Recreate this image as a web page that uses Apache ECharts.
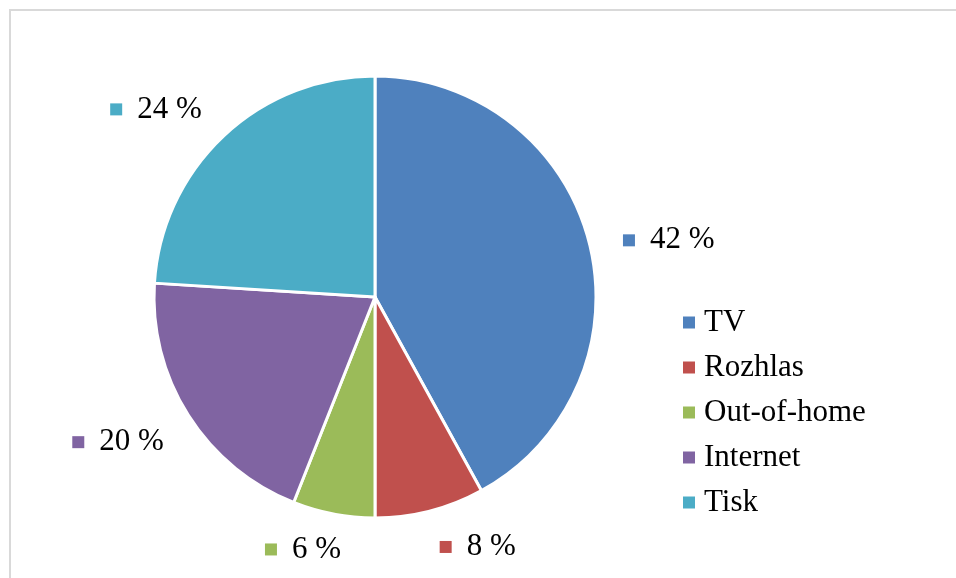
<!DOCTYPE html>
<html>
<head>
<meta charset="utf-8">
<script src="https://cdn.jsdelivr.net/npm/echarts@6/dist/echarts.min.js"></script>
<style>
  html, body { margin: 0; padding: 0; background: #fff; }
  #chart { width: 956px; height: 578px; }
</style>
</head>
<body>
<div id="chart"></div>
<script>
// Media mix shares (percent)
const categories = ['TV', 'Rozhlas', 'Out-of-home', 'Internet', 'Tisk'];
const shares = [42, 8, 6, 20, 24];
const colors = ['#4F81BD', '#C0504D', '#9BBB59', '#8064A2', '#4BACC6'];

// Small per-slice offsets applied to the outside labels after layout
const labelNudge = [[0, 7], [1, 2], [14, 1], [5, 8], [2, -1]];

const FONT = '"Liberation Serif", "Times New Roman", serif';

const chart = echarts.init(document.getElementById('chart'), null, { renderer: 'canvas' });

const pieData = categories.map((name, i) => ({ name: name, value: shares[i] }));

const rich = {};
colors.forEach((c, i) => {
  rich['m' + i] = { width: 12, height: 12, backgroundColor: c };
});
rich.t = { fontFamily: FONT, fontSize: 31, color: '#000', padding: [0, 0, 0, 15] };

chart.setOption({
  animation: false,
  color: colors,
  graphic: [{
    type: 'rect',
    shape: { x: 10, y: 10, width: 2000, height: 2000 },
    style: { fill: 'none', stroke: '#d9d9d9', lineWidth: 2 },
    silent: true
  }],
  legend: {
    orient: 'vertical',
    left: 681,
    top: 300,
    padding: 0,
    itemWidth: 14,
    itemHeight: 14,
    itemGap: 0,
    icon: 'rect',
    selectedMode: false,
    textStyle: { fontFamily: FONT, fontSize: 31, color: '#000', lineHeight: 45, padding: [0, 0, 0, 3] },
    data: categories
  },
  series: [{
    type: 'pie',
    center: [375, 297],
    radius: 221,
    startAngle: 90,
    clockwise: true,
    avoidLabelOverlap: false,
    silent: true,
    itemStyle: { borderColor: '#fff', borderWidth: 3 },
    label: {
      show: true,
      position: 'outside',
      distanceToLabelLine: 0,
      formatter: p => '{m' + p.dataIndex + '|}{t|' + p.value + ' %}',
      rich: rich
    },
    labelLine: { show: false, length: 35, length2: 0 },
    labelLayout: p => ({ dx: labelNudge[p.dataIndex][0], dy: labelNudge[p.dataIndex][1] }),
    emphasis: { disabled: true },
    data: pieData
  }]
});
</script>
</body>
</html>
